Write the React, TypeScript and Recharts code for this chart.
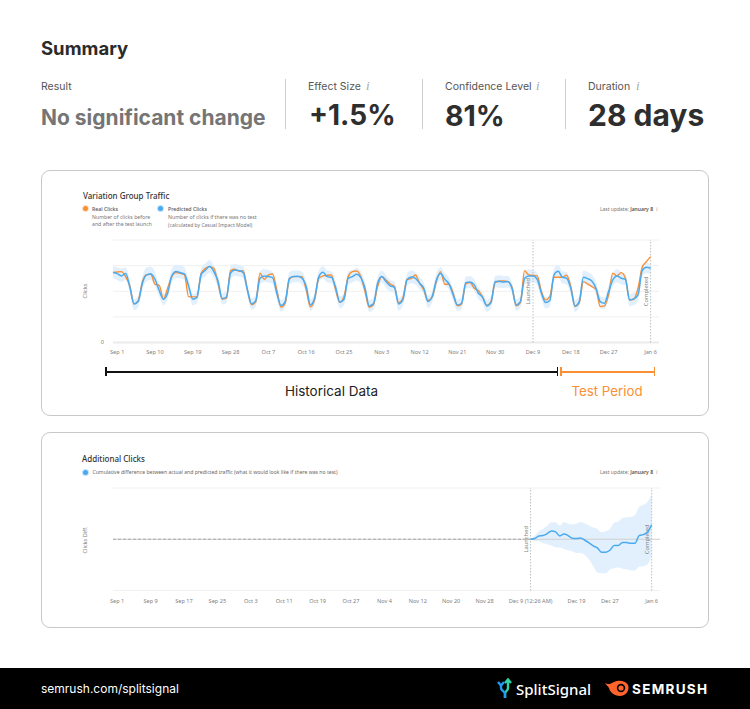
import React from "react";
import {
  ComposedChart,
  Area,
  Line,
  XAxis,
  YAxis,
  CartesianGrid,
  ReferenceLine,
} from "recharts";

const realClicks = [
  210, 212, 213, 198, 170, 116, 126, 183, 204, 205, 175, 172, 130, 163, 198, 210, 208, 204, 138, 137, 138, 208, 223, 228, 223, 178, 130, 133, 216, 220, 214, 216,
  158, 113, 123, 208, 190, 203, 206, 158, 106, 118, 190, 198, 198, 198, 158, 107, 128, 193, 200, 202, 203, 158, 121, 138, 198, 213, 215, 198, 153, 106, 113, 168, 198,
  188, 176, 168, 120, 133, 190, 192, 203, 178, 158, 126, 136, 183, 213, 175, 175, 148, 110, 116, 176, 180, 163, 156, 136, 112, 123, 180, 185, 185, 183, 166, 110, 120,
  216, 203, 202, 200, 153, 128, 138, 196, 196, 196, 202, 168, 108, 118, 183, 176, 168, 160, 108, 110, 143, 208, 200, 210, 193, 128, 130, 163, 226, 243, 258,
];
const predictedClicks = [
  211, 207, 200, 207, 168, 116, 123, 178, 203, 206, 190, 156, 130, 148, 200, 213, 210, 206, 170, 130, 136, 205, 217, 229, 213, 185, 132, 136, 209, 218, 216, 210,
  158, 116, 126, 193, 200, 198, 195, 148, 111, 123, 193, 198, 199, 193, 168, 113, 133, 198, 211, 198, 196, 166, 121, 130, 193, 198, 205, 195, 163, 110, 116, 178, 198,
  183, 170, 166, 116, 128, 188, 197, 193, 178, 163, 123, 138, 188, 207, 190, 176, 143, 113, 118, 180, 182, 173, 148, 136, 110, 120, 183, 183, 182, 183, 163, 113, 123,
  193, 200, 200, 190, 148, 120, 126, 203, 214, 196, 193, 163, 110, 123, 196, 192, 185, 163, 123, 118, 153, 188, 200, 193, 190, 128, 131, 143, 216, 226, 223,
];
const predictedUpper = [
  230, 226, 222, 226, 188, 130, 140, 198, 226, 228, 212, 172, 146, 166, 222, 234, 232, 226, 188, 146, 154, 224, 238, 248, 232, 204, 148, 154, 230, 236, 234, 228,
  176, 132, 144, 214, 220, 218, 212, 166, 128, 140, 212, 216, 216, 212, 186, 130, 150, 216, 230, 216, 214, 184, 138, 148, 214, 218, 224, 214, 182, 128, 134, 198, 216,
  202, 188, 184, 134, 146, 206, 216, 212, 196, 180, 140, 156, 208, 226, 208, 194, 160, 130, 136, 198, 200, 190, 166, 152, 128, 138, 200, 202, 200, 200, 180, 130, 140,
  210, 220, 218, 208, 166, 136, 144, 222, 234, 214, 212, 182, 128, 140, 216, 212, 204, 182, 140, 136, 172, 208, 220, 212, 208, 146, 150, 162, 234, 240, 236,
];
const predictedLower = [
  193, 188, 182, 188, 150, 97, 106, 160, 184, 188, 170, 138, 112, 130, 180, 194, 192, 188, 152, 112, 118, 186, 198, 210, 194, 166, 114, 118, 190, 200, 198, 192,
  140, 98, 108, 174, 182, 180, 176, 130, 93, 106, 174, 180, 182, 174, 150, 95, 115, 180, 192, 180, 178, 148, 103, 112, 174, 180, 186, 176, 145, 92, 98, 160, 180,
  164, 152, 148, 96, 110, 170, 178, 174, 160, 144, 104, 120, 170, 188, 172, 158, 124, 95, 100, 162, 164, 156, 130, 118, 92, 102, 166, 164, 164, 165, 146, 95, 105,
  174, 180, 182, 172, 130, 102, 108, 184, 194, 178, 174, 144, 92, 105, 178, 172, 166, 144, 104, 100, 134, 168, 180, 174, 172, 110, 112, 124, 198, 208, 206,
];
const trafficTickDays = [0, 9, 18, 27, 36, 45, 54, 63, 72, 81, 90, 99, 108, 117, 127];
const trafficTickLabels = ["Sep 1", "Sep 10", "Sep 19", "Sep 28", "Oct 7", "Oct 16", "Oct 25", "Nov 3", "Nov 12", "Nov 21", "Nov 30", "Dec 9", "Dec 18", "Dec 27", "Jan 6"];
const trafficGrid = [0, 77, 154, 231, 308];

const testSteps = [99, 100, 101, 102, 103, 104, 105, 106, 107, 108, 109, 110, 111, 112, 113, 114, 115, 116, 117, 118, 119, 120, 121, 122, 123, 124, 125, 126, 127, 128];
const additional = [0, 2, 10, 11, 17, 25, 22, 10, 16, 11, 3, 2, 4, -3, -11, -20, -26, -39, -39, -33, -19, -19, -10, -10, -12, -12, 11, 14, 21, 43];
const additionalUpper = [0, 11, 24, 31, 41, 51, 51, 41, 52, 47, 44, 47, 52, 47, 41, 35, 31, 21, 24, 31, 49, 53, 64, 66, 67, 72, 97, 104, 112, 137];
const additionalLower = [0, -5, -6, -11, -15, -19, -24, -25, -29, -33, -36, -41, -41, -47, -61, -81, -100, -102, -102, -91, -87, -85, -89, -91, -93, -94, -82, -81, -76, -49];
const addTickSteps = [0, 8, 16, 24, 32, 40, 48, 56, 64, 72, 80, 88, 99, 110, 118, 128];
const addTickLabels = ["Sep 1", "Sep 9", "Sep 17", "Sep 25", "Oct 3", "Oct 11", "Oct 19", "Oct 27", "Nov 4", "Nov 12", "Nov 20", "Nov 28", "Dec 9 (12:26 AM)", "Dec 19", "Dec 27", "Jan 6"];
const addGrid = [-154, -77, 0, 77, 154];

const summaryStats = [
  { label: "Effect Size", value: "+1.5%", x: 308, valueX: 309, size: 28 },
  { label: "Confidence Level", value: "81%", x: 445, valueX: 445, size: 28.5 },
  { label: "Duration", value: "28 days", x: 588, valueX: 588, size: 30 },
];

const trafficRows = predictedClicks.map((p, i) => ({
  day: i - 1,
  real: realClicks[i],
  predicted: p,
  band: [predictedLower[i], predictedUpper[i]],
}));

const addRows = [
  { step: -1, base: 0 },
  ...testSteps.map((s, i) => ({
    step: s,
    base: i === 0 ? 0 : undefined,
    diff: additional[i],
    band: [additionalLower[i], additionalUpper[i]],
  })),
];

const CHART_FONT = "'Noto Sans', sans-serif";
const UI_FONT = "Inter, sans-serif";

function Txt({ x, y, size, color = "#333", weight = 400, font = UI_FONT, right, center, children }: any) {
  // y is the vertical centre of the text
  const style: React.CSSProperties = {
    position: "absolute",
    top: y - size,
    height: size * 2,
    lineHeight: `${size * 2}px`,
    fontSize: size,
    color,
    fontWeight: weight,
    fontFamily: font,
    whiteSpace: "nowrap",
  };
  if (right !== undefined) style.right = 750 - right;
  else if (center) {
    style.left = x;
    style.transform = "translateX(-50%)";
  } else style.left = x;
  return <div style={style}>{children}</div>;
}

function Box({ x, y, w, h, color }: any) {
  return <div style={{ position: "absolute", left: x, top: y, width: w, height: h, background: color }} />;
}

function Dot({ x, y, color, halo }: any) {
  return (
    <div
      style={{
        position: "absolute",
        left: x - 2.5,
        top: y - 2.5,
        width: 5,
        height: 5,
        borderRadius: "50%",
        background: color,
        boxShadow: `0 0 0 1px ${halo}`,
      }}
    />
  );
}

function InfoMark({ x, y, size = 13 }: any) {
  return (
    <Txt x={x} y={y} size={size} color="#a8a8a8" font="'Liberation Serif', serif">
      <i>i</i>
    </Txt>
  );
}

function Card({ y, h }: any) {
  return (
    <div
      style={{
        position: "absolute",
        left: 41,
        top: y,
        width: 666,
        height: h,
        border: "1px solid #c8c8c8",
        borderRadius: 9,
        background: "#fff",
      }}
    />
  );
}

function VerticalTag({ viewBox, text, dx }: any) {
  const cx = viewBox.x + dx;
  const cy = viewBox.y + viewBox.height / 2;
  return (
    <text x={cx} y={cy} transform={`rotate(-90 ${cx} ${cy})`} textAnchor="middle" dominantBaseline="central" fontSize={5.8} fontFamily={CHART_FONT} fill="#808080">
      {text}
    </text>
  );
}

const tickStyle = { fill: "#808080", fontSize: 5.6, fontFamily: CHART_FONT };

function TrafficChart() {
  return (
    <ComposedChart width={580} height={133} data={trafficRows} margin={{ top: 10, right: 1, bottom: 0, left: 0 }}>
      <CartesianGrid vertical={false} stroke="#f0f0f0" strokeWidth={1} />
      <XAxis
        dataKey="day"
        type="number"
        domain={[-1, 129]}
        ticks={trafficTickDays}
        interval={0}
        tickFormatter={(d) => trafficTickLabels[trafficTickDays.indexOf(d)]}
        axisLine={false}
        tickLine={false}
        tick={tickStyle}
        tickMargin={2}
        height={20.5}
      />
      <YAxis
        type="number"
        domain={[0, 308]}
        ticks={trafficGrid}
        interval={0}
        width={33}
        axisLine={false}
        tickLine={false}
        tick={tickStyle}
        tickMargin={3}
        tickFormatter={(v) => (v === 0 ? "0" : "")}
      />
      <ReferenceLine y={0} stroke="#ebebeb" strokeWidth={2} />
      <Area dataKey="band" stroke="none" fill="#e2f0fd" fillOpacity={1} type="monotone" dot={false} activeDot={false} isAnimationActive={false} />
      <ReferenceLine x={99} stroke="#c0c0c0" strokeDasharray="1.5 1.5" label={<VerticalTag text="Launched" dx={-5} />} />
      <ReferenceLine x={127} stroke="#c0c0c0" strokeDasharray="1.5 1.5" label={<VerticalTag text="Completed" dx={-5} />} />
      <Line dataKey="real" stroke="#fb8f33" strokeWidth={1.4} type="monotone" dot={false} activeDot={false} isAnimationActive={false} />
      <Line dataKey="predicted" stroke="#4aaaf0" strokeWidth={1.5} type="monotone" dot={false} activeDot={false} isAnimationActive={false} />
    </ComposedChart>
  );
}

function AdditionalChart() {
  return (
    <ComposedChart width={580} height={133} data={addRows} margin={{ top: 10, right: 0, bottom: 0, left: 0 }}>
      <CartesianGrid vertical={false} stroke="#f0f0f0" strokeWidth={1} />
      <XAxis
        dataKey="step"
        type="number"
        domain={[-1, 130]}
        ticks={addTickSteps}
        interval={0}
        tickFormatter={(d) => addTickLabels[addTickSteps.indexOf(d)]}
        axisLine={false}
        tickLine={false}
        tick={tickStyle}
        tickMargin={2.5}
        height={20.5}
      />
      <YAxis type="number" domain={[-154, 154]} ticks={addGrid} interval={0} width={33} axisLine={false} tickLine={false} tick={false} />
      <Area dataKey="band" stroke="none" fill="#e2f0fd" fillOpacity={1} type="monotone" dot={false} activeDot={false} isAnimationActive={false} />
      <ReferenceLine y={0} stroke="#cfcfcf" strokeWidth={1} segment={[{ x: 99, y: 0 }, { x: 130, y: 0 }]} />
      <ReferenceLine x={99} stroke="#c0c0c0" strokeDasharray="1.5 1.5" label={<VerticalTag text="Launched" dx={-5} />} />
      <ReferenceLine x={128} stroke="#c0c0c0" strokeDasharray="1.5 1.5" label={<VerticalTag text="Completed" dx={-5} />} />
      <Line dataKey="base" stroke="#a8a8a8" strokeWidth={1} strokeDasharray="3 2" connectNulls dot={false} activeDot={false} isAnimationActive={false} />
      <Line dataKey="diff" stroke="#4aaaf0" strokeWidth={1.5} type="monotone" dot={false} activeDot={false} isAnimationActive={false} />
    </ComposedChart>
  );
}

function Bracket({ x, w, y, color }: any) {
  return (
    <>
      <Box x={x} y={y} w={w} h={1.5} color={color} />
      <Box x={x} y={y - 4} w={1.5} h={9} color={color} />
      <Box x={x + w - 1.5} y={y - 4} w={1.5} h={9} color={color} />
    </>
  );
}

function Logos() {
  return (
    <>
      <svg style={{ position: "absolute", left: 496, top: 678 }} width={18} height={22} viewBox="0 0 18 22" fill="none" strokeWidth={2.4}>
        <path d="M12 3 V10 C12 13 9 13 9 16 V20" stroke="#2fd3a8" />
        <path d="M5 6 V10 C5 13 9 13 9 16 V20" stroke="#1f9df0" />
        <path d="M9 5 L12 1.5 L15 5" stroke="#2fd3a8" />
        <path d="M2 4 L5 7.5 L8 4" stroke="#1f9df0" />
      </svg>
      <Txt x={516} y={689} size={15} color="#fff" weight={500} font="'Noto Sans', sans-serif">
        SplitSignal
      </Txt>
      <svg style={{ position: "absolute", left: 605, top: 680 }} width={24} height={17} viewBox="0 0 24 17">
        <path d="M0 3 C4 5 5 4 9 2 C13 0 20 0 23 5 C25 10 21 16 15 16 C9 16 5 12 4 8 C3 6 1 5 0 3 Z" fill="#ff642d" />
        <circle cx={16} cy={8} r={4.2} fill="#000" />
        <circle cx={16} cy={8} r={2.6} fill="#ff642d" />
      </svg>
      <div
        style={{
          position: "absolute",
          left: 632,
          top: 680,
          height: 18,
          lineHeight: "18px",
          fontSize: 13.5,
          fontWeight: 700,
          fontFamily: UI_FONT,
          color: "#fff",
          letterSpacing: 1.3,
          whiteSpace: "nowrap",
        }}
      >
        SEMRUSH
      </div>
    </>
  );
}

export default function App() {
  return (
    <div style={{ position: "absolute", left: 0, top: 0, width: 750, height: 709, background: "#fff", overflow: "hidden" }}>
      <Txt x={41} y={48} size={18.5} weight={700} color="#2b2b2b">Summary</Txt>

      <Txt x={41} y={86} size={10.5} color="#555">Result</Txt>
      <Txt x={41} y={118} size={21} weight={700} color="#757575">No significant change</Txt>
      <Box x={285} y={79} w={1} h={50} color="#cfcfcf" />
      <Box x={422} y={79} w={1} h={50} color="#cfcfcf" />
      <Box x={565} y={79} w={1} h={50} color="#cfcfcf" />
      {summaryStats.map((s) => (
        <React.Fragment key={s.label}>
          <Txt x={s.x} y={86} size={10.5} color="#555">{s.label}</Txt>
          <Txt x={s.valueX} y={115} size={s.size} weight={700} color="#2e2e2e">{s.value}</Txt>
        </React.Fragment>
      ))}
      <InfoMark x={366} y={86} />
      <InfoMark x={536} y={86} />
      <InfoMark x={636} y={86} />

      <Card y={170} h={244} />
      <Txt x={83} y={196} size={8} weight={500} color="#333" font={CHART_FONT}>Variation Group Traffic</Txt>
      <Dot x={85.5} y={208.6} color="#fb8f33" halo="#fde3cb" />
      <Txt x={92} y={208.8} size={5.2} weight={500} color="#555" font={CHART_FONT}>Real Clicks</Txt>
      <Txt x={92} y={216.8} size={5.2} color="#777" font={CHART_FONT}>Number of clicks before</Txt>
      <Txt x={92} y={224.6} size={5.2} color="#777" font={CHART_FONT}>and after the test launch</Txt>
      <Dot x={160.5} y={208.6} color="#4aaaf0" halo="#c8e4fa" />
      <Txt x={168} y={208.8} size={5.2} weight={500} color="#555" font={CHART_FONT}>Predicted Clicks</Txt>
      <Txt x={168} y={216.8} size={5.2} color="#777" font={CHART_FONT}>Number of clicks if there was no test</Txt>
      <Txt x={168} y={224.6} size={5} color="#777" font={CHART_FONT}>(calculated by Casual Impact Model)</Txt>
      <Txt right={653} y={209} size={5} color="#777" font={CHART_FONT}>Last update: <span style={{ fontWeight: 600, color: "#555" }}>January 8</span></Txt>
      <InfoMark x={656} y={209} size={6} />
      <div style={{ position: "absolute", left: 80, top: 230 }}>
        <TrafficChart />
      </div>
      <div style={{ position: "absolute", left: 85, top: 291, transform: "translate(-50%,-50%) rotate(-90deg)", fontSize: 5.6, color: "#808080", fontFamily: CHART_FONT }}>Clicks</div>

      <Bracket x={105} w={453} y={371} color="#111" />
      <Bracket x={560} w={95} y={371} color="#fb8f33" />
      <Txt x={331.5} y={391} size={13.5} center color="#222">Historical Data</Txt>
      <Txt x={607} y={391} size={13.3} center color="#fb8f33">Test Period</Txt>

      <Card y={432} h={194} />
      <Txt x={82} y={459} size={8} weight={500} color="#333" font={CHART_FONT}>Additional Clicks</Txt>
      <Dot x={85} y={472} color="#4aaaf0" halo="#c8e4fa" />
      <Txt x={92.5} y={472} size={5.1} color="#666" font={CHART_FONT}>Cumulative difference between actual and predicted traffic (what it would look like if there was no test)</Txt>
      <Txt right={653} y={472} size={5} color="#777" font={CHART_FONT}>Last update: <span style={{ fontWeight: 600, color: "#555" }}>January 8</span></Txt>
      <InfoMark x={656} y={472} size={6} />
      <div style={{ position: "absolute", left: 80, top: 478 }}>
        <AdditionalChart />
      </div>
      <div style={{ position: "absolute", left: 85, top: 540, transform: "translate(-50%,-50%) rotate(-90deg)", fontSize: 5.6, color: "#808080", fontFamily: CHART_FONT, whiteSpace: "nowrap" }}>Clicks Diff.</div>

      <Box x={0} y={668} w={750} h={41} color="#000" />
      <Txt x={41} y={689} size={12} color="#fff" weight={400}>semrush.com/splitsignal</Txt>
      <Logos />
    </div>
  );
}
